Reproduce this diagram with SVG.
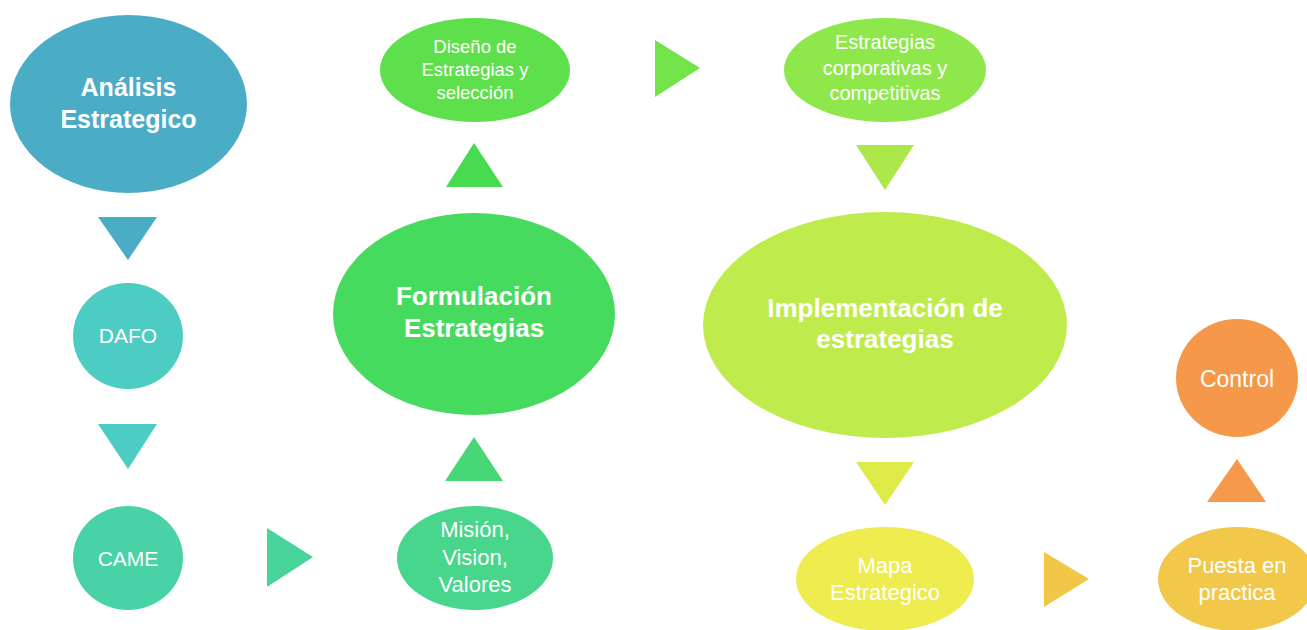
<svg xmlns="http://www.w3.org/2000/svg" width="1307" height="630" viewBox="0 0 1307 630">
  <style>
    .lbl { font-family: "Liberation Sans", Arial, sans-serif; fill: #ffffff; text-anchor: middle; }
    .big { font-weight: bold; font-size: 26px; }
    .mid { font-size: 21px; }
    .sm  { font-size: 18px; }
  </style>
  <rect x="0" y="0" width="1307" height="630" fill="#ffffff"/>

  <!-- flow arrows (solid triangles) -->
  <g id="connectors">
    <polygon points="98,217 157,217 128,260" fill="#4BACC6"/>
    <polygon points="98,424 157,424 128,469" fill="#4DCCC4"/>
    <polygon points="267,528 313,557 267,587" fill="#48D39B"/>
    <polygon points="445,481 503,481 474,437" fill="#47D776"/>
    <polygon points="446,187 503,187 474,143" fill="#48DB52"/>
    <polygon points="655,40 700,68 655,97" fill="#72E44A"/>
    <polygon points="856,145 914,145 885,190" fill="#ADE84A"/>
    <polygon points="856,462 914,462 885,505" fill="#DDEA48"/>
    <polygon points="1044,552 1089,579 1044,607" fill="#F2C646"/>
    <polygon points="1207,502 1266,502 1237,459" fill="#F59A4B"/>
  </g>

  <g id="analisis">
    <ellipse cx="128.5" cy="104" rx="118.5" ry="89" fill="#4BACC6"/>
    <text class="lbl big" style="font-size:25px" x="128.5" y="96">Análisis</text>
    <text class="lbl big" style="font-size:25px" x="128.5" y="128">Estrategico</text>
  </g>

  <g id="dafo">
    <ellipse cx="128" cy="336" rx="55" ry="53" fill="#4DCCC4"/>
    <text class="lbl mid" x="128" y="343">DAFO</text>
  </g>

  <g id="came">
    <ellipse cx="128" cy="558" rx="55" ry="52" fill="#49D2A6"/>
    <text class="lbl mid" x="128" y="566">CAME</text>
  </g>

  <g id="mision">
    <ellipse cx="475" cy="558" rx="78" ry="52" fill="#48D68C"/>
    <text class="lbl" style="font-size:22px" x="475" y="537">Misión,</text>
    <text class="lbl" style="font-size:22px" x="475" y="565">Vision,</text>
    <text class="lbl" style="font-size:22px" x="475" y="592">Valores</text>
  </g>

  <g id="formulacion">
    <ellipse cx="474" cy="314" rx="141" ry="101" fill="#46DB5E"/>
    <text class="lbl big" x="474" y="305">Formulación</text>
    <text class="lbl big" x="474" y="337">Estrategias</text>
  </g>

  <g id="diseno">
    <ellipse cx="475" cy="70" rx="95" ry="52" fill="#5EE04C"/>
    <text class="lbl sm" style="font-size:18.5px" x="475" y="53">Diseño de</text>
    <text class="lbl sm" style="font-size:18.5px" x="475" y="76">Estrategias y</text>
    <text class="lbl sm" style="font-size:18.5px" x="475" y="99">selección</text>
  </g>

  <g id="estrategias-corp">
    <ellipse cx="885" cy="70" rx="101" ry="52" fill="#8EE84C"/>
    <text class="lbl" style="font-size:20px" x="885" y="49">Estrategias</text>
    <text class="lbl" style="font-size:20px" x="885" y="75">corporativas y</text>
    <text class="lbl" style="font-size:20px" x="885" y="100">competitivas</text>
  </g>

  <g id="implementacion">
    <ellipse cx="885" cy="325" rx="182" ry="113" fill="#C0EB4C"/>
    <text class="lbl big" x="885" y="317">Implementación de</text>
    <text class="lbl big" x="885" y="348">estrategias</text>
  </g>

  <g id="mapa">
    <ellipse cx="885" cy="579" rx="89" ry="52" fill="#EEEC4E"/>
    <text class="lbl" style="font-size:22px" x="885" y="573">Mapa</text>
    <text class="lbl" style="font-size:22px" x="885" y="600">Estrategico</text>
  </g>

  <g id="puesta">
    <ellipse cx="1237" cy="579" rx="79" ry="52" fill="#F2C84A"/>
    <text class="lbl" style="font-size:22px" x="1237" y="573">Puesta en</text>
    <text class="lbl" style="font-size:22px" x="1237" y="600">practica</text>
  </g>

  <g id="control">
    <ellipse cx="1237" cy="378" rx="61" ry="59" fill="#F6984A"/>
    <text class="lbl" style="font-size:23px" x="1237" y="387">Control</text>
  </g>
</svg>
